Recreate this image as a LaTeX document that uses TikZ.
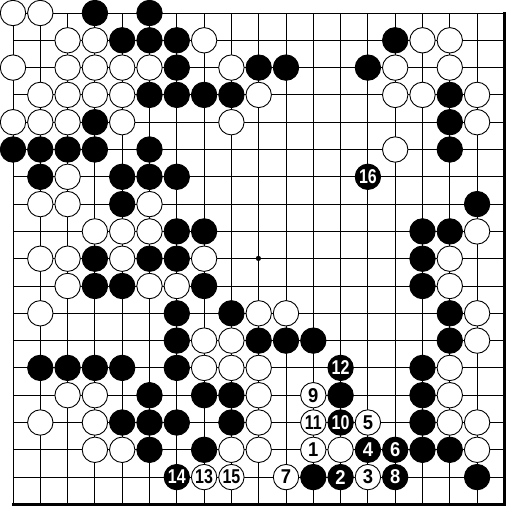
\documentclass[tikz,border=0pt]{standalone}
\usepackage{fontspec}
\setmainfont{Liberation Sans}
\usepackage{graphicx}
\newcommand{\two}[1]{\scalebox{0.8}[1]{#1}}
\newcommand{\one}[1]{\scalebox{0.92}[1]{#1}}
\begin{document}
\begin{tikzpicture}[x=1pt,y=-1pt,
  gridline/.style={line width=1pt},
  edgeline/.style={line width=2.2pt,line cap=rect},
  stone/.style={circle,draw=black,line width=0.9pt,minimum size=25.4pt,inner sep=0pt,
    font=\fontsize{20}{20}\selectfont\bfseries},
  bst/.style={stone,fill=black,text=white},
  wst/.style={stone,fill=white,text=black}]
\useasboundingbox (0,0) rectangle (520,520);
\fill[white] (0,0) rectangle (520,520);
\def\s{27.3}
\def\o{13}
\foreach \i in {0,...,18}{
  \draw[gridline] ({\o+\s*\i},\o) -- ({\o+\s*\i},{\o+18*\s});
  \draw[gridline] (\o,{\o+\s*\i}) -- ({\o+18*\s},{\o+\s*\i});
}
\coordinate (tr) at ({\o+18*\s},\o);
\coordinate (br) at ({\o+18*\s},{\o+18*\s});
\coordinate (bl) at (\o,{\o+18*\s});
\draw[edgeline] (tr) -- (br) -- (bl);
\fill (258.4,258.4) circle (2.6pt);
% black stones
\foreach \c/\r in {3/0,5/0,
  4/1,5/1,6/1,14/1,
  6/2,9/2,10/2,13/2,
  5/3,6/3,7/3,8/3,16/3,
  3/4,16/4,
  0/5,1/5,2/5,3/5,5/5,16/5,
  1/6,4/6,5/6,6/6,
  4/7,17/7,
  6/8,7/8,15/8,16/8,
  3/9,5/9,6/9,15/9,
  3/10,4/10,7/10,15/10,
  6/11,8/11,16/11,
  6/12,9/12,10/12,11/12,16/12,
  1/13,2/13,3/13,4/13,6/13,15/13,
  5/14,7/14,8/14,12/14,15/14,
  4/15,5/15,6/15,8/15,15/15,
  5/16,7/16,15/16,16/16,
  11/17,17/17}{
  \node[bst] (b\c-\r) at ({\o+\s*\c},{\o+\s*\r}) {};
}
% white stones
\foreach \c/\r in {0/0,1/0,
  2/1,3/1,7/1,15/1,16/1,
  0/2,2/2,3/2,4/2,5/2,8/2,14/2,16/2,
  1/3,2/3,3/3,4/3,9/3,14/3,15/3,17/3,
  0/4,1/4,2/4,4/4,8/4,17/4,
  14/5,
  2/6,
  1/7,2/7,5/7,
  3/8,4/8,5/8,17/8,
  1/9,2/9,4/9,7/9,16/9,
  2/10,5/10,6/10,16/10,
  1/11,9/11,10/11,17/11,
  7/12,8/12,17/12,
  7/13,8/13,9/13,16/13,
  2/14,3/14,9/14,16/14,
  1/15,3/15,9/15,16/15,17/15,
  3/16,4/16,8/16,9/16,12/16,17/16}{
  \node[wst] (w\c-\r) at ({\o+\s*\c},{\o+\s*\r}) {};
}
% numbered black
\foreach \c/\r/\n in {13/6/\two{16},12/13/\two{12},12/15/\two{10},13/16/\one{4},
  14/16/\one{6},6/17/\two{14},12/17/\one{2},14/17/\one{8}}{
  \node[bst] (nb\c-\r) at ({\o+\s*\c},{\o+\s*\r}) {\n};
}
% numbered white
\foreach \c/\r/\n in {11/14/\one{9},11/15/\two{11},13/15/\one{5},11/16/\one{1},
  7/17/\two{13},8/17/\two{15},10/17/\one{7},13/17/\one{3}}{
  \node[wst] (nw\c-\r) at ({\o+\s*\c},{\o+\s*\r}) {\n};
}
\end{tikzpicture}
\end{document}
